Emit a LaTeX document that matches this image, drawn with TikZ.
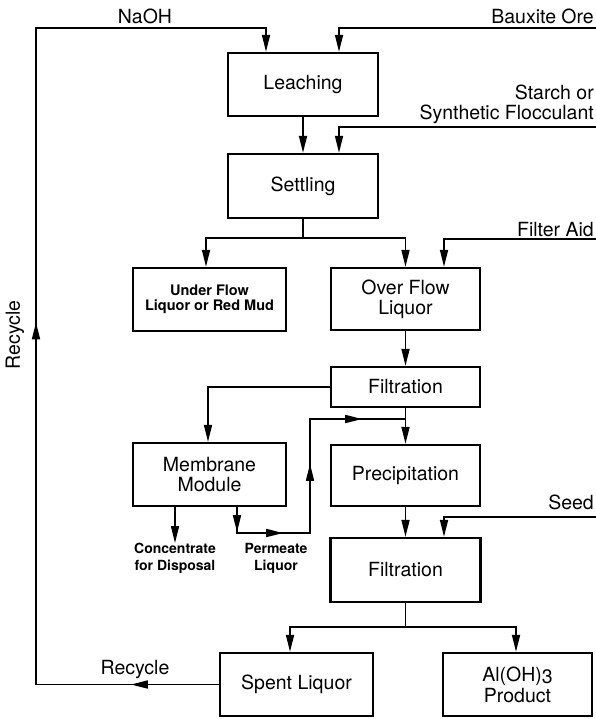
\documentclass[tikz,border=0pt]{standalone}
\usepackage{fontspec}
\setmainfont{TeX Gyre Heros}
\usetikzlibrary{arrows.meta,decorations.markings}
\newcommand\fmain{\fontsize{19.5}{20}\selectfont}
\newcommand\fsmallu{\bfseries\fontsize{14.5}{15}\selectfont}
\newcommand\fsmallc{\bfseries\fontsize{14}{17}\selectfont}
\newcommand\tipA{\arrow{Triangle[length=17pt,width=8pt]}}
\begin{document}
\begin{tikzpicture}[x=1pt,y=-1pt,
  box/.style={draw,line width=2.3pt,inner sep=0pt,align=center,font=\fmain},
  lbl/.style={inner sep=0pt,font=\fmain},
  smalll/.style={inner sep=0pt,align=center,font=\fsmallc},
  conn/.style={line width=1.6pt},
  arr/.style={conn,-{Triangle[length=17pt,width=8pt]}},
  recmarks/.style={postaction={decorate},decoration={markings,
     mark=at position 88pt with {\tipA},
     mark=at position 545pt with {\tipA}}},
  permmarks/.style={postaction={decorate},decoration={markings,
     mark=at position 25pt with {\tipA},
     mark=at position 72pt with {\tipA},
     mark=at position 168pt with {\tipA},
     mark=at position 265pt with {\tipA}}}
]
\useasboundingbox (0,0) rectangle (596,719);

% boxes
\node[box,minimum width=150pt,minimum height=63pt] (leach) at (303,84.5) {Leaching};
\node[box,minimum width=150pt,minimum height=64pt] (settle) at (303,186) {Settling};
\node[box,minimum width=153pt,minimum height=63pt,font=\fsmallu] (under) at (209.5,299.5) {Under Flow\\Liquor or Red Mud};
\node[box,minimum width=149pt,minimum height=62pt] (over) at (405.5,299) {Over Flow\\Liquor};
\node[box,minimum width=149pt,minimum height=40pt] (filta) at (405.5,387) {Filtration};
\node[box,minimum width=153pt,minimum height=63pt] (memb) at (209.5,474.5) {Membrane\\Module};
\node[box,minimum width=149pt,minimum height=61pt] (precip) at (405.5,475.5) {Precipitation};
\node[box,minimum width=150pt,minimum height=64pt] (filtb) at (405.5,570) {Filtration};
\node[box,minimum width=153pt,minimum height=63pt] (spent) at (296.5,684.5) {Spent Liquor};
\node[box,minimum width=149pt,minimum height=63pt] (aloh) at (517.5,684.5) {Al(OH)\raisebox{-2pt}[\height][0pt]{3}\\[1pt]Product};

% labels
\node[lbl] (naoh) at (145,16) {NaOH};
\node[lbl,anchor=east] (baux) at (594,16) {Bauxite Ore};
\node[lbl,anchor=east,align=right] (starch) at (594,104) {Starch or\\Synthetic Flocculant};
\node[lbl,anchor=east] (faid) at (594,230) {Filter Aid};
\node[lbl,anchor=east] (seed) at (594,502) {Seed};
\node[lbl,rotate=90] (recv) at (15,335) {Recycle};
\node[lbl] (rech) at (135,670) {Recycle};
\node[smalll] (conc) at (175,558.5) {Concentrate\\for Disposal};
\node[smalll] (perm) at (276,558.5) {Permeate\\Liquor};

% coordinates
\coordinate (bxin) at (596,28);
\coordinate (stin) at (596,127);
\coordinate (fain) at (596,239);
\coordinate (sdin) at (596,517);
\coordinate (rl) at (36,684.5);
\coordinate (rt) at (36,28);
\coordinate (sp1) at (303,238);
\coordinate (sp2) at (405.5,627);
\coordinate (pa) at (237,533);
\coordinate (pb) at (310,533);
\coordinate (pc) at (310,419);
\coordinate (pj) at (405.5,419);

% connectors
\draw[arr] (bxin) -| ([xshift=36pt]leach.north);
\draw[arr,recmarks] (spent.west) -- (rl) -- (rt) -| ([xshift=-37pt]leach.north);
\draw[arr] (leach) -- (settle);
\draw[arr] (stin) -| ([xshift=36pt]settle.north);
\draw[conn] (settle) -- (sp1);
\draw[arr] (sp1) -| ([xshift=-3.5pt]under.north);
\draw[arr] (sp1) -| (over.north);
\draw[arr] (fain) -| ([xshift=38.5pt]over.north);
\draw[arr] (over) -- (filta);
\draw[arr] (filta.west) -| ([xshift=-1.5pt]memb.north);
\draw[arr] (filta) -- (precip);
\draw[arr] ([xshift=-34.5pt]memb.south) -- (conc.north);
\draw[conn,permmarks] ([xshift=27.5pt]memb.south) -- (pa) -- (pb) -- (pc) -- (pj);
\draw[arr] (precip) -- (filtb);
\draw[arr] (sdin) -| ([xshift=38.5pt]filtb.north);
\draw[conn] (filtb) -- (sp2);
\draw[arr] (sp2) -| ([xshift=-6.5pt]spent.north);
\draw[arr] (sp2) -| ([xshift=-1.5pt]aloh.north);
\end{tikzpicture}
\end{document}
